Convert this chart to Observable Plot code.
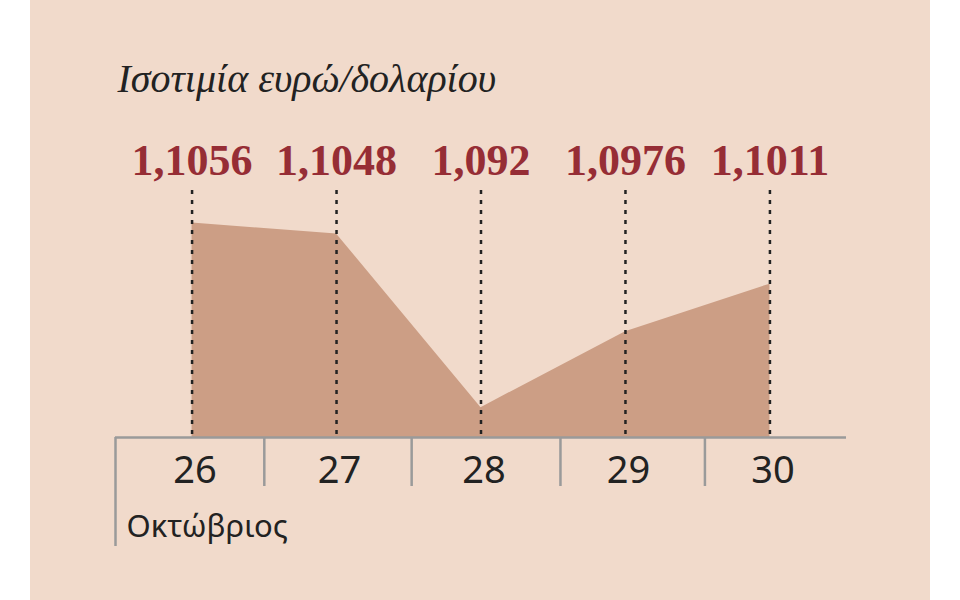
<!DOCTYPE html>
<html>
<head>
<meta charset="utf-8">
<script src="https://cdn.jsdelivr.net/npm/d3@7"></script>
<script src="https://cdn.jsdelivr.net/npm/@observablehq/plot@0.6"></script>
<style>
  html, body { margin: 0; padding: 0; background: #ffffff; }
  #panel { position: absolute; left: 30px; top: 0; width: 900px; height: 600px; background: #f1dacb; }
  svg { display: block; }
</style>
</head>
<body>
<div id="panel"></div>
<script>
const title = "Ισοτιμία ευρώ/δολαρίου";
const monthLabel = "Οκτώβριος";
const days = [26, 27, 28, 29, 30];
const rates = [1.1056, 1.1048, 1.092, 1.0976, 1.1011];
const rateLabels = ["1,1056", "1,1048", "1,092", "1,0976", "1,1011"];
const bandEdges = [25.47, 26.5, 27.52, 28.55, 29.55];
const xDomain = [25.47, 30.53];
const yDomain = [1.0898, 1.108];

const data = days.map((d, i) => ({day: d, rate: rates[i], label: rateLabels[i]}));

const chart = Plot.plot({
  width: 900,
  height: 600,
  marginLeft: 85,
  marginRight: 84,
  marginTop: 190,
  marginBottom: 163,
  style: {background: "transparent", overflow: "visible"},
  x: {domain: xDomain, axis: null},
  y: {domain: yDomain, axis: null},
  marks: [
    Plot.areaY(data, {x: "day", y1: () => yDomain[0], y2: "rate", fill: "#cc9e85"}),
    Plot.ruleX(data, {x: "day", stroke: "#222", strokeWidth: 2.5, strokeDasharray: "4,6"}),
    Plot.ruleY([yDomain[0]], {stroke: "#9a9a9a", strokeWidth: 2.5}),
    Plot.ruleX(bandEdges.slice(1), {stroke: "#9a9a9a", strokeWidth: 2.5, insetTop: 247, insetBottom: -49}),
    Plot.ruleX(bandEdges.slice(0, 1), {stroke: "#9a9a9a", strokeWidth: 2.5, insetTop: 247, insetBottom: -109}),
    Plot.text(data, {x: "day", text: "label", frameAnchor: "top", lineAnchor: "middle", dy: -30,
      fill: "#962d35", fontFamily: "Liberation Serif", fontWeight: "bold", fontSize: 44}),
    Plot.text(data, {x: "day", text: d => String(d.day), frameAnchor: "bottom", lineAnchor: "middle", dy: 33, dx: 3,
      fill: "#222", fontFamily: "Noto Sans", fontSize: 38}),
    Plot.text([monthLabel], {x: xDomain[0], text: d => d, frameAnchor: "bottom", lineAnchor: "middle", dy: 90, dx: 11,
      textAnchor: "start", fill: "#222", fontFamily: "Noto Sans", fontSize: 31}),
    Plot.text([title], {x: xDomain[0], text: d => d, frameAnchor: "top", lineAnchor: "middle", dy: -111, dx: 2,
      textAnchor: "start", fill: "#222", fontFamily: "Liberation Serif", fontStyle: "italic", fontSize: 40})
  ]
});
document.getElementById("panel").appendChild(chart);
</script>
</body>
</html>
